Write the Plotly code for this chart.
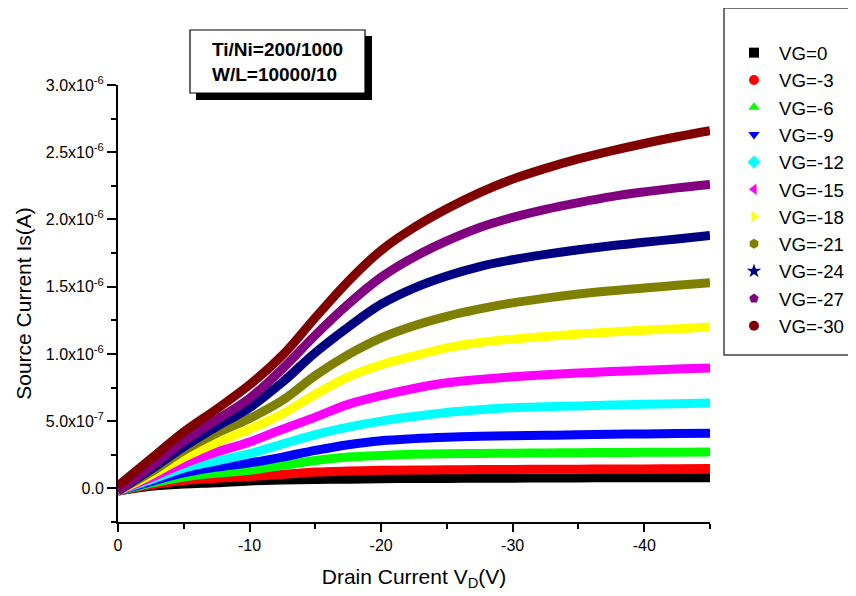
import plotly.graph_objects as go

# Drain voltage sample points (V)
vd = [0, -2.5, -5, -7.5, -10, -12.5, -15, -17.5, -20, -22.5, -25, -27.5, -30,
      -32.5, -35, -37.5, -40, -42.5, -45]

# Source current (in units of 1e-6 A) for each gate voltage
is_vg0 = [-0.02, 0.015, 0.032, 0.042, 0.055, 0.062, 0.066, 0.068, 0.072, 0.073, 0.074, 0.075, 0.076,
          0.077, 0.078, 0.0785, 0.079, 0.0795, 0.08]
is_vg3 = [-0.02, 0.025, 0.058, 0.075, 0.089, 0.104, 0.121, 0.129, 0.134, 0.137, 0.138, 0.140, 0.141,
          0.142, 0.143, 0.144, 0.145, 0.146, 0.147]
is_vg6 = [-0.02, 0.04, 0.085, 0.114, 0.134, 0.171, 0.208, 0.233, 0.245, 0.253, 0.258, 0.260, 0.262,
          0.264, 0.265, 0.267, 0.268, 0.269, 0.27]
is_vg9 = [-0.02, 0.05, 0.115, 0.158, 0.19, 0.233, 0.283, 0.325, 0.355, 0.37, 0.38, 0.387, 0.392,
          0.395, 0.398, 0.402, 0.405, 0.408, 0.41]
is_vg12 = [-0.02, 0.065, 0.15, 0.205, 0.258, 0.33, 0.40, 0.455, 0.50, 0.535, 0.565, 0.585, 0.60,
           0.607, 0.613, 0.62, 0.625, 0.63, 0.635]
is_vg15 = [-0.02, 0.08, 0.185, 0.27, 0.345, 0.44, 0.53, 0.625, 0.69, 0.743, 0.785, 0.81, 0.83,
           0.845, 0.858, 0.869, 0.879, 0.888, 0.895]
is_vg18 = [-0.02, 0.10, 0.23, 0.34, 0.44, 0.555, 0.70, 0.83, 0.92, 0.985, 1.045, 1.085, 1.11,
           1.13, 1.148, 1.163, 1.176, 1.188, 1.20]
is_vg21 = [-0.02, 0.12, 0.28, 0.41, 0.52, 0.655, 0.84, 0.995, 1.12, 1.21, 1.28, 1.335, 1.38,
           1.415, 1.445, 1.47, 1.49, 1.51, 1.53]
is_vg24 = [-0.02, 0.14, 0.31, 0.46, 0.60, 0.79, 1.01, 1.20, 1.37, 1.49, 1.58, 1.65, 1.70,
           1.74, 1.775, 1.805, 1.83, 1.855, 1.88]
is_vg27 = [-0.02, 0.16, 0.35, 0.51, 0.67, 0.89, 1.14, 1.37, 1.57, 1.72, 1.84, 1.94, 2.015,
           2.075, 2.125, 2.17, 2.205, 2.235, 2.26]
is_vg30 = [0.02, 0.22, 0.42, 0.59, 0.77, 0.99, 1.27, 1.54, 1.77, 1.94, 2.08, 2.20, 2.30,
           2.38, 2.45, 2.51, 2.565, 2.615, 2.66]

series_names = ["VG=0", "VG=-3", "VG=-6", "VG=-9", "VG=-12", "VG=-15",
                "VG=-18", "VG=-21", "VG=-24", "VG=-27", "VG=-30"]
series_values = [is_vg0, is_vg3, is_vg6, is_vg9, is_vg12, is_vg15,
                 is_vg18, is_vg21, is_vg24, is_vg27, is_vg30]
colors = ["#000000", "#FF0000", "#00FF00", "#0000FF", "#00FFFF", "#FF00FF",
          "#FFFF00", "#808000", "#000080", "#800080", "#800000"]
symbols = ["square", "circle", "triangle-up", "triangle-down", "diamond",
           "triangle-left", "triangle-right", "hexagon", "star", "pentagon", "circle"]

y_tickvals = [0, 0.5e-6, 1.0e-6, 1.5e-6, 2.0e-6, 2.5e-6, 3.0e-6]
y_ticktext = ["0.0", "5.0x10<sup>-7</sup>", "1.0x10<sup>-6</sup>", "1.5x10<sup>-6</sup>",
              "2.0x10<sup>-6</sup>", "2.5x10<sup>-6</sup>", "3.0x10<sup>-6</sup>"]
x_tickvals = [0, -10, -20, -30, -40]
x_ticktext = ["0", "-10", "-20", "-30", "-40"]

FONT = "Liberation Sans, Arial, sans-serif"

fig = go.Figure()

# data bands
for name, vals, col in zip(series_names, series_values, colors):
    fig.add_trace(go.Scatter(
        x=vd, y=[v * 1e-6 for v in vals], mode="lines",
        line=dict(color=col, width=9, shape="spline", smoothing=1.0),
        showlegend=False, hoverinfo="skip"))

# legend entries (markers)
for i, (name, col, sym) in enumerate(zip(series_names, colors, symbols)):
    fig.add_trace(go.Scatter(
        x=[None], y=[None], mode="markers", name=name,
        marker=dict(color=col, symbol=sym, size=10 if sym != "star" else 11,
                    line=dict(width=0)),
        legendgroup=f"g{i}", showlegend=True))

# page offset of the figure (body margin) and margins
OFF = 8
W, H = 848, 588
L, R, T, B = 110, 146, 77, 74
pw = W - L - R
ph = H - T - B

def px_to_paper_x(px):
    return (px - OFF - L) / pw

def px_to_paper_y(py):
    return (H - B - (py - OFF)) / ph

fig.update_layout(
    width=W, height=H,
    margin=dict(l=L, r=R, t=T, b=B, pad=0, autoexpand=False),
    paper_bgcolor="white", plot_bgcolor="white",
    font=dict(family=FONT, color="black"),
    xaxis=dict(
        range=[0, -45], tickvals=x_tickvals, ticktext=x_ticktext,
        showline=True, linecolor="black", linewidth=2, mirror=False,
        ticks="outside", ticklen=8, tickwidth=2, tickcolor="black",
        minor=dict(dtick=5, tick0=0, ticks="outside", ticklen=5, tickwidth=2, tickcolor="black"),
        showgrid=False, zeroline=False,
        tickfont=dict(size=16, family=FONT),
        title=dict(text="Drain Current V<sub>D</sub>(V)", font=dict(size=21, family=FONT), standoff=16),
    ),
    yaxis=dict(
        range=[-0.25e-6, 3.0e-6], tickvals=y_tickvals, ticktext=y_ticktext,
        showline=True, linecolor="black", linewidth=2, mirror=False,
        ticks="outside", ticklen=9, tickwidth=2, tickcolor="black",
        minor=dict(dtick=0.25e-6, tick0=0, ticks="outside", ticklen=5, tickwidth=2, tickcolor="black"),
        showgrid=False, zeroline=False,
        tickfont=dict(size=16, family=FONT),
        title=dict(text="Source Current Is(A)", font=dict(size=21, family=FONT), standoff=8),
    ),
    legend=dict(
        xref="container", yref="container",
        x=(729 - OFF) / W, y=1 - (34 - OFF) / H, xanchor="left", yanchor="top",
        font=dict(size=18.7, family=FONT), bgcolor="rgba(0,0,0,0)",
        borderwidth=0, tracegroupgap=0, itemsizing="trace", itemwidth=40,
        traceorder="normal", maxheight=560,
    ),
    showlegend=True,
)

# legend frame
fig.add_shape(type="rect", xref="paper", yref="paper",
              x0=px_to_paper_x(724), x1=px_to_paper_x(880),
              y0=px_to_paper_y(355), y1=px_to_paper_y(8),
              line=dict(color="#444444", width=1.5), fillcolor="rgba(0,0,0,0)")

# text box with drop shadow
fig.add_shape(type="rect", xref="paper", yref="paper",
              x0=px_to_paper_x(196), x1=px_to_paper_x(372),
              y0=px_to_paper_y(100), y1=px_to_paper_y(36),
              line=dict(color="black", width=0), fillcolor="black")
fig.add_shape(type="rect", xref="paper", yref="paper",
              x0=px_to_paper_x(190), x1=px_to_paper_x(365),
              y0=px_to_paper_y(93), y1=px_to_paper_y(30),
              line=dict(color="black", width=1.2), fillcolor="white")
fig.add_annotation(xref="paper", yref="paper",
                   x=px_to_paper_x(277), y=px_to_paper_y(62),
                   xanchor="center", yanchor="middle", showarrow=False,
                   text="<b>Ti/Ni=200/1000</b><br><b>W/L=10000/10</b>",
                   align="left", font=dict(size=19, family=FONT, color="black"))

fig.write_html("out.html")
